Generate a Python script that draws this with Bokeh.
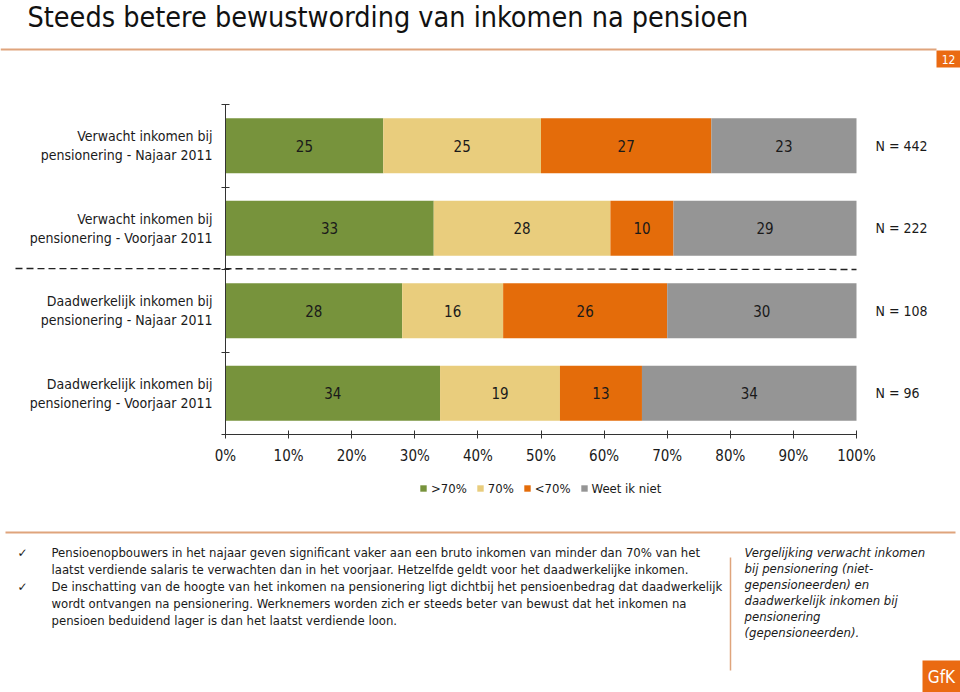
from bokeh.plotting import figure
from bokeh.models import (ColumnDataSource, FixedTicker, Label, LabelSet, Legend, LegendItem,
                          BoxAnnotation, Arrow, PrintfTickFormatter, Range1d, LinearAxis)
from bokeh.embed import file_html
from bokeh.resources import INLINE
from bokeh.core.properties import value

# ---------------- data ----------------
categories = [
    "Verwacht inkomen bij\npensionering - Najaar 2011",
    "Verwacht inkomen bij\npensionering - Voorjaar 2011",
    "Daadwerkelijk inkomen bij\npensionering - Najaar 2011",
    "Daadwerkelijk inkomen bij\npensionering - Voorjaar 2011",
]
series_names = [">70%", "70%", "<70%", "Weet ik niet"]
gt70 = [25, 33, 28, 34]
eq70 = [25, 28, 16, 19]
lt70 = [27, 10, 26, 13]
weet = [23, 29, 30, 34]
n_labels = ["N = 442", "N = 222", "N = 108", "N = 96"]
x_ticks = [0, 10, 20, 30, 40, 50, 60, 70, 80, 90, 100]

title_text = "Steeds betere bewustwording van inkomen na pensioen"
bullet_lines = [
    "Pensioenopbouwers in het najaar geven significant vaker aan een bruto inkomen van minder dan 70% van het",
    "laatst verdiende salaris te verwachten dan in het voorjaar. Hetzelfde geldt voor het daadwerkelijke inkomen.",
    "De inschatting van de hoogte van het inkomen na pensionering ligt dichtbij het pensioenbedrag dat daadwerkelijk",
    "wordt ontvangen na pensionering.  Werknemers worden zich er steeds beter van bewust dat het inkomen na",
    "pensioen beduidend lager is dan het laatst verdiende loon.",
]
bullet_marks = [True, False, True, False, False]
note_lines = [
    "Vergelijking verwacht inkomen",
    "bij pensionering (niet-",
    "gepensioneerden) en",
    "daadwerkelijk inkomen bij",
    "pensionering",
    "(gepensioneerden).",
]
page_number = "12"
logo_text = "GfK"

colors = ["#77933C", "#E9CD7D", "#E46C0A", "#959595"]
FONT = "DejaVu Sans Condensed"
TEXT_COLOR = "#1a1a1a"
DECOR = "#DFA47C"
ORANGE = "#EA6A12"

# ---------------- geometry (window px) ----------------
W, H = 960, 692
FRAME_L, FRAME_R, FRAME_T, FRAME_B = 225, 856, 104, 434  # plot area in window px

n = len(categories)
kx = (FRAME_R - FRAME_L) / 100.0
ky = (FRAME_B - FRAME_T) / float(n)


def sx(X):
    return X


def sy(Y):
    return H - Y


ypos = [n - i - 0.5 for i in range(n)]
keys = ["gt70", "eq70", "lt70", "weet"]
src = ColumnDataSource(dict(y=ypos, gt70=gt70, eq70=eq70, lt70=lt70, weet=weet, nlab=n_labels,
                            xend=[100] * n))

p = figure(width=W, height=H,
           x_range=Range1d(-FRAME_L / kx, (W - FRAME_L) / kx),
           y_range=Range1d((FRAME_B - H) / ky, FRAME_B / ky),
           output_backend="svg", toolbar_location=None, x_axis_type=None, y_axis_type=None,
           min_border_left=0, min_border_right=0, min_border_top=0, min_border_bottom=0)
p.outline_line_color = None
p.grid.visible = False
p.background_fill_color = "white"
p.border_fill_color = "white"

renderers = p.hbar_stack(keys, y="y", height=0.667, color=colors, line_color=None, source=src)

# values inside segments
vals = [gt70, eq70, lt70, weet]
lx, ly, lt = [], [], []
for i in range(n):
    left = 0
    for s in range(len(keys)):
        v = vals[s][i]
        lx.append(left + v / 2)
        ly.append(ypos[i])
        lt.append(str(v))
        left += v
vsrc = ColumnDataSource(dict(x=lx, y=ly, t=lt))
p.text(x="x", y="y", text="t", source=vsrc, text_align="center", text_baseline="middle",
       text_font=value(FONT), text_font_size="15px", text_color=TEXT_COLOR)

# N labels
p.add_layout(LabelSet(x="xend", y="y", text="nlab", source=src, x_offset=19,
                      text_align="left", text_baseline="middle", text_font=value(FONT),
                      text_font_size=value("14px"), text_color=value(TEXT_COLOR)))

# axes (fixed inside the frame)
xa = LinearAxis(fixed_location=0, bounds=(0, 100))
xa.ticker = FixedTicker(ticks=x_ticks, minor_ticks=[])
xa.formatter = PrintfTickFormatter(format="%d%%")
xa.major_tick_in = 4
xa.major_tick_out = 4
xa.major_label_standoff = 8
xa.major_label_text_font = FONT
xa.major_label_text_font_size = "15px"
xa.major_label_text_color = TEXT_COLOR
xa.axis_line_color = "#333333"
xa.major_tick_line_color = "#333333"
p.add_layout(xa, "below")

ya = LinearAxis(fixed_location=0, bounds=(0, n))
ya.ticker = FixedTicker(ticks=ypos, minor_ticks=list(range(n + 1)))
ya.major_label_overrides = {ypos[i]: categories[i] for i in range(n)}
ya.major_tick_in = 0
ya.major_tick_out = 0
ya.major_tick_line_color = None
ya.minor_tick_in = 4
ya.minor_tick_out = 4
ya.minor_tick_line_color = "#333333"
ya.axis_line_color = "#333333"
ya.major_label_standoff = 9
ya.major_label_text_font = FONT
ya.major_label_text_font_size = "14px"
ya.major_label_text_color = TEXT_COLOR
p.add_layout(ya, "left")

# dashed separator between expected and actual
p.add_layout(Arrow(end=None, start_units="screen", x_start=sx(15), y_start=sy(268),
                   end_units="data", x_end=100, y_end=2,
                   line_color="#222222", line_width=1.3, line_dash="7 4"))

# legend
legend = Legend(items=[LegendItem(label=series_names[i], renderers=[renderers[i]]) for i in range(4)],
                orientation="horizontal", location=(sx(419), sy(496)),
                border_line_color=None, background_fill_alpha=0, padding=0, margin=0,
                glyph_width=8, glyph_height=8, label_height=16, label_standoff=4, spacing=9,
                label_text_font=FONT, label_text_font_size="13px", label_text_color=TEXT_COLOR)
p.add_layout(legend, "center")

# title and decoration
p.add_layout(Label(x=sx(27), y=sy(17), x_units="screen", y_units="screen", text=title_text,
                   text_font=FONT, text_font_size="28.5px", text_baseline="middle",
                   text_color="#111111"))
p.add_layout(Arrow(end=None, start_units="screen", end_units="screen", x_start=sx(0), y_start=sy(49),
                   x_end=sx(936), y_end=sy(49), line_color=DECOR, line_width=2))
p.add_layout(BoxAnnotation(left=sx(936), right=sx(960), top=sy(50), bottom=sy(67),
                           left_units="screen", right_units="screen", top_units="screen",
                           bottom_units="screen", fill_color=ORANGE, fill_alpha=1, line_color=None))
p.add_layout(Label(x=sx(948), y=sy(58.5), x_units="screen", y_units="screen", text=page_number,
                   text_font=FONT, text_font_size="12px", text_align="center", text_baseline="middle",
                   text_color="white"))

p.add_layout(Arrow(end=None, start_units="screen", end_units="screen", x_start=sx(5), y_start=sy(532),
                   x_end=sx(955), y_end=sy(532), line_color=DECOR, line_width=2))
p.add_layout(Arrow(end=None, start_units="screen", end_units="screen", x_start=sx(730), y_start=sy(557),
                   x_end=sx(730), y_end=sy(670), line_color=DECOR, line_width=1.5))

# bullet text
for i, line in enumerate(bullet_lines):
    yy = 552 + 17 * i
    if bullet_marks[i]:
        p.add_layout(Label(x=sx(17), y=sy(yy), x_units="screen", y_units="screen", text="\u2713",
                           text_font="DejaVu Sans", text_font_size="12px", text_baseline="middle",
                           text_color=TEXT_COLOR))
    p.add_layout(Label(x=sx(51), y=sy(yy), x_units="screen", y_units="screen", text=line,
                       text_font=FONT, text_font_size="13px", text_baseline="middle",
                       text_color=TEXT_COLOR))

for i, line in enumerate(note_lines):
    yy = 552 + 16 * i
    p.add_layout(Label(x=sx(744), y=sy(yy), x_units="screen", y_units="screen", text=line,
                       text_font=FONT, text_font_size="13px", text_font_style="italic",
                       text_baseline="middle", text_color=TEXT_COLOR))

# logo
p.add_layout(BoxAnnotation(left=sx(922), right=sx(960), top=sy(660), bottom=sy(692),
                           left_units="screen", right_units="screen", top_units="screen",
                           bottom_units="screen", fill_color=ORANGE, fill_alpha=1, line_color=None))
p.add_layout(Label(x=sx(941), y=sy(676), x_units="screen", y_units="screen", text=logo_text,
                   text_font=FONT, text_font_size="17px", text_align="center", text_baseline="middle",
                   text_color="white"))

open("out.html", "w").write(file_html(p, INLINE))
